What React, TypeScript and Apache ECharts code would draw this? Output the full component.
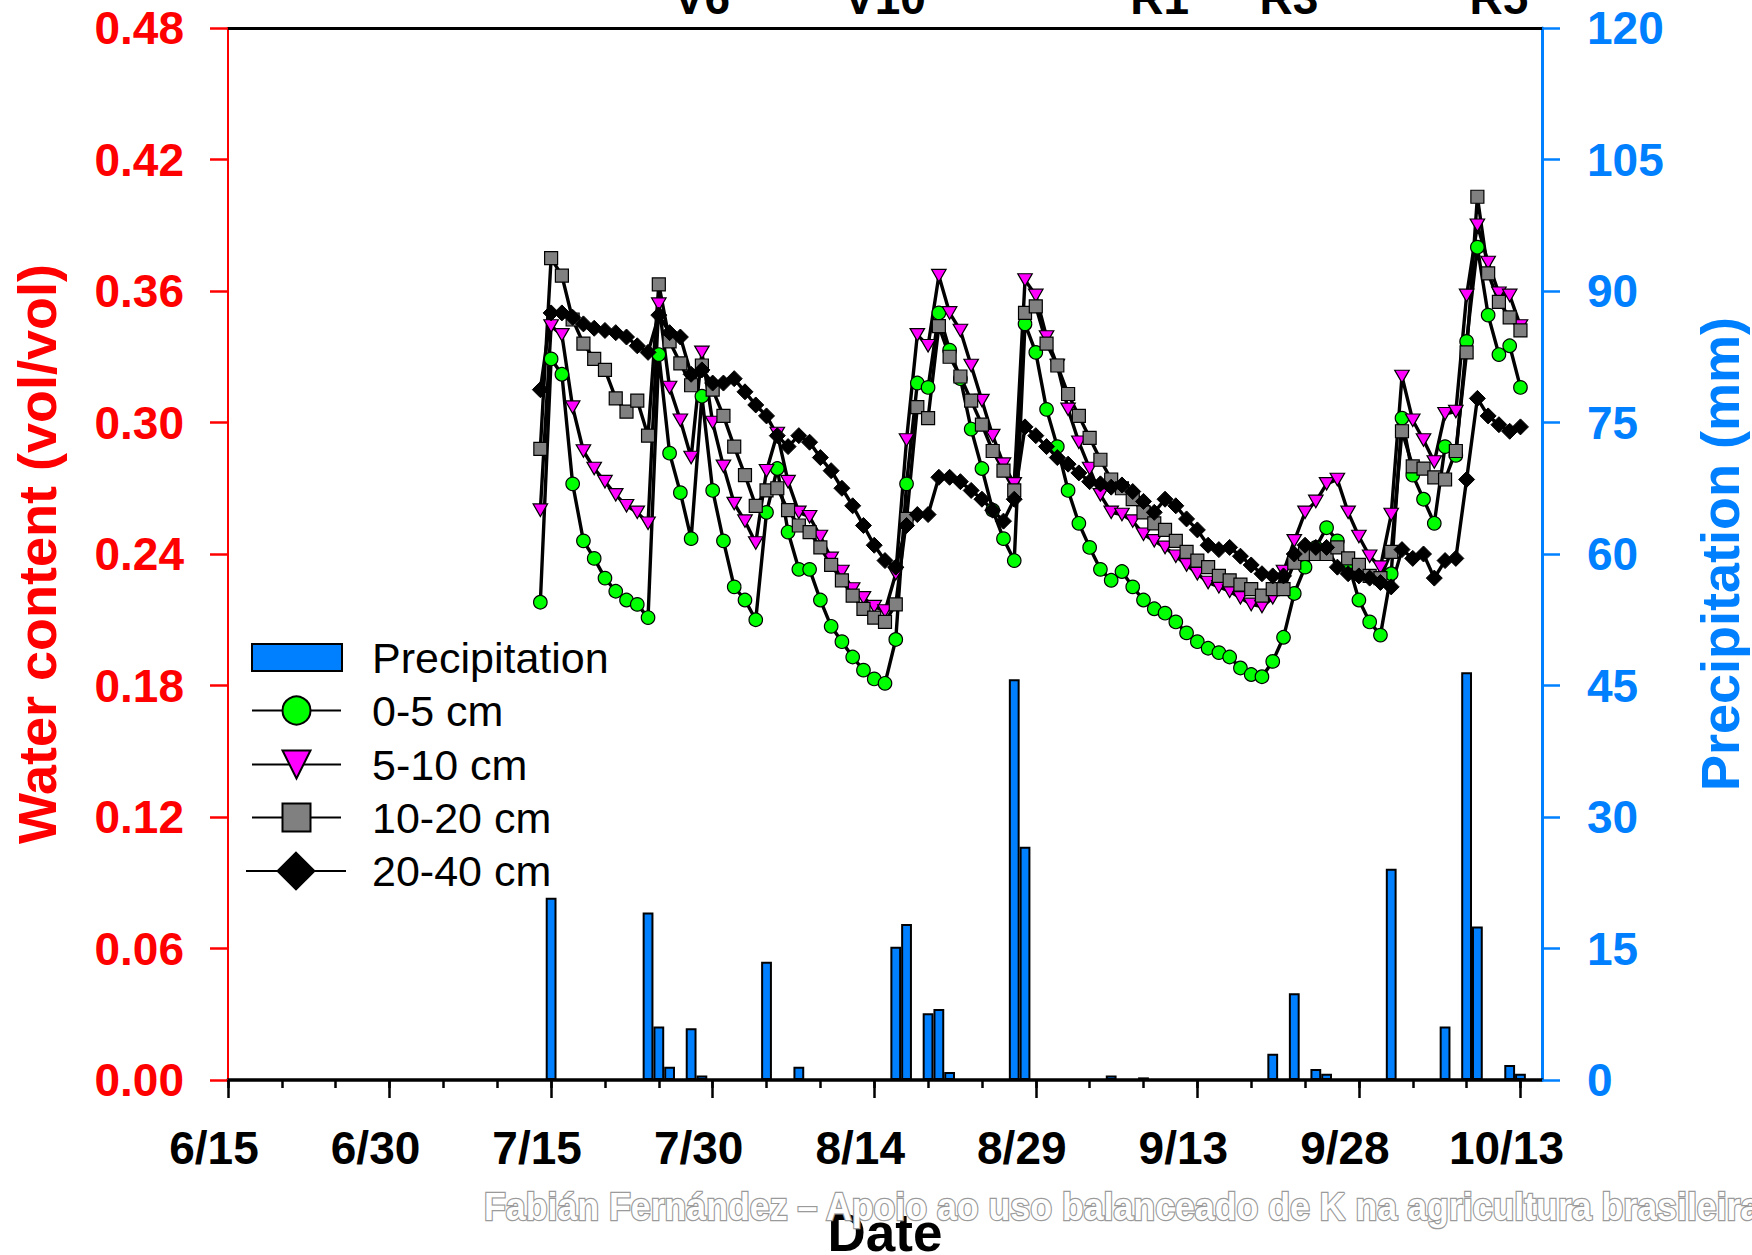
import { useEffect, useRef } from 'react';
import * as echarts from 'echarts';

// Day numbers are counted from 6/15 (day 0). Soil series start on 7/14 (day 29), one value per day.
const START_DAY = 29;

const soil0to5 = [
  0.218, 0.329, 0.322, 0.272, 0.246, 0.238, 0.229, 0.223, 0.219, 0.217, 0.211,
  0.331, 0.286, 0.268, 0.247, 0.312, 0.269, 0.246, 0.225, 0.219, 0.210,
  0.259, 0.279, 0.250, 0.233, 0.233, 0.219, 0.207, 0.200, 0.193, 0.187, 0.183, 0.181,
  0.201, 0.272, 0.318, 0.316, 0.350, 0.333, 0.320, 0.297, 0.279, 0.260, 0.247, 0.237,
  0.345, 0.332, 0.306, 0.289, 0.269, 0.254, 0.243, 0.233, 0.228, 0.232, 0.225, 0.219,
  0.215, 0.213, 0.209, 0.204, 0.200, 0.197, 0.195, 0.193, 0.188, 0.185, 0.184,
  0.191, 0.202, 0.222, 0.234, 0.243, 0.252, 0.246, 0.236, 0.219, 0.209, 0.203,
  0.231, 0.302, 0.276, 0.265, 0.254, 0.289, 0.285, 0.337, 0.380, 0.349, 0.331, 0.335, 0.316,
];

const soil5to10 = [
  0.260, 0.344, 0.340, 0.307, 0.287, 0.279, 0.273, 0.267, 0.262, 0.259, 0.254,
  0.354, 0.316, 0.301, 0.284, 0.332, 0.300, 0.280, 0.263, 0.255, 0.245,
  0.278, 0.295, 0.273, 0.259, 0.257, 0.248, 0.238, 0.232, 0.224, 0.220, 0.216, 0.214,
  0.231, 0.292, 0.340, 0.335, 0.367, 0.350, 0.342, 0.326, 0.310, 0.294, 0.281, 0.272,
  0.365, 0.358, 0.339, 0.326, 0.306, 0.291, 0.279, 0.267, 0.259, 0.258, 0.255, 0.249,
  0.246, 0.243, 0.239, 0.235, 0.231, 0.227, 0.225, 0.223, 0.220, 0.217, 0.216,
  0.220, 0.232, 0.246, 0.259, 0.264, 0.272, 0.274, 0.259, 0.248, 0.239, 0.234,
  0.258, 0.321, 0.301, 0.292, 0.282, 0.304, 0.305, 0.358, 0.390, 0.373, 0.359, 0.358, 0.344,
];

const soil10to20 = [
  0.288, 0.375, 0.367, 0.347, 0.336, 0.329, 0.324, 0.311, 0.305, 0.310, 0.294,
  0.363, 0.337, 0.327, 0.317, 0.326, 0.315, 0.303, 0.289, 0.276, 0.262,
  0.269, 0.270, 0.260, 0.253, 0.250, 0.243, 0.235, 0.228, 0.221, 0.215, 0.211, 0.209,
  0.217, 0.256, 0.307, 0.302, 0.344, 0.330, 0.321, 0.310, 0.299, 0.287, 0.278, 0.269,
  0.350, 0.353, 0.336, 0.326, 0.313, 0.303, 0.293, 0.283, 0.274, 0.270, 0.265, 0.259,
  0.254, 0.251, 0.246, 0.241, 0.237, 0.234, 0.230, 0.228, 0.226, 0.224, 0.221,
  0.224, 0.224, 0.236, 0.240, 0.240, 0.240, 0.243, 0.238, 0.235, 0.230, 0.229,
  0.241, 0.296, 0.280, 0.279, 0.275, 0.274, 0.287, 0.332, 0.403, 0.368, 0.355, 0.348, 0.342,
];

const soil20to40 = [
  0.315, 0.350, 0.350, 0.348, 0.345, 0.343, 0.342, 0.341, 0.339, 0.335, 0.332,
  0.349, 0.341, 0.339, 0.322, 0.324, 0.318, 0.318, 0.320, 0.314, 0.308,
  0.303, 0.294, 0.289, 0.294, 0.291, 0.284, 0.278, 0.270, 0.262, 0.253, 0.244, 0.237,
  0.234, 0.253, 0.258, 0.258, 0.275, 0.275, 0.273, 0.269, 0.265, 0.260, 0.255, 0.265,
  0.298, 0.294, 0.289, 0.284, 0.281, 0.277, 0.273, 0.272, 0.2705, 0.2715, 0.2685, 0.264,
  0.259, 0.265, 0.262, 0.256, 0.251, 0.244, 0.242, 0.243, 0.239, 0.235, 0.231,
  0.230, 0.230, 0.240, 0.244, 0.243, 0.243, 0.234, 0.231, 0.230, 0.229, 0.227,
  0.225, 0.242, 0.238, 0.240, 0.229, 0.237, 0.238, 0.274, 0.311, 0.303, 0.299, 0.296, 0.298,
];

const precipDays = [30, 39, 40, 41, 43, 44, 50, 53, 62, 63, 65, 66, 67, 73, 74, 82, 85, 97, 99, 101, 102, 108, 113, 115, 116, 119, 120];
const precipMm = [20.8, 19.1, 6.1, 1.5, 5.9, 0.5, 13.5, 1.5, 15.2, 17.8, 7.6, 8.1, 0.9, 45.7, 26.6, 0.5, 0.3, 3.0, 9.9, 1.25, 0.7, 24.1, 6.1, 46.5, 17.5, 1.7, 0.7];

const majorTickDays = [0, 15, 30, 45, 60, 75, 90, 105, 120];
const majorTickLabels = ['6/15', '6/30', '7/15', '7/30', '8/14', '8/29', '9/13', '9/28', '10/13'];
const minorTickDays = [0, 5, 10, 15, 20, 25, 30, 35, 40, 45, 50, 55, 60, 65, 70, 75, 80, 85, 90, 95, 100, 105, 110, 115, 120];
const stageDays = [44, 61, 86.5, 98.5, 118];
const stageLabels = ['V6', 'V10', 'R1', 'R3', 'R5'];

const WATERMARK = 'Fabián Fernández – Apoio ao uso balanceado de K na agricultura brasileira';

const FONT = '"Liberation Sans", Arial, Helvetica, sans-serif';
const RED = '#ff0000';
const BLUE = '#0080ff';

const toPairs = (arr: number[]) => arr.map((v, i) => [START_DAY + i, v]);

export default function App() {
  const ref = useRef<HTMLDivElement>(null);

  useEffect(() => {
    if (!ref.current) return;
    const chart = echarts.init(ref.current, undefined, { renderer: 'svg' });

    const lineBase = {
      type: 'line' as const,
      xAxisIndex: 0,
      yAxisIndex: 0,
      lineStyle: { color: '#000', width: 3.4 },
      emphasis: { disabled: true },
    };

    const legendText = (lineHeight: number, pad: number) => ({
      fontFamily: FONT,
      fontSize: 43,
      color: '#000',
      lineHeight,
      padding: [0, 0, 0, pad],
    });

    const option: any = {
      animation: false,
      grid: { left: 228, right: 210, top: 28, bottom: 175, containLabel: false, outerBoundsMode: 'none' },
      legend: [
        {
          left: 251, top: 636, padding: 0, itemGap: 0, selectedMode: false,
          itemWidth: 90, itemHeight: 27,
          data: [{ name: 'Precipitation', icon: 'rect' }],
          textStyle: legendText(27, 25),
        },
        {
          left: 251, top: 689, padding: 0, itemGap: 0, selectedMode: false,
          itemWidth: 89, itemHeight: 35,
          data: ['0-5 cm'],
          textStyle: legendText(35, 26),
        },
        {
          left: 251, top: 743, padding: 0, itemGap: 0, selectedMode: false,
          itemWidth: 89, itemHeight: 35,
          data: ['5-10 cm'],
          textStyle: legendText(35, 26),
        },
        {
          left: 251, top: 796, padding: 0, itemGap: 0, selectedMode: false,
          itemWidth: 89, itemHeight: 35,
          data: ['10-20 cm'],
          textStyle: legendText(35, 26),
        },
        {
          left: 245, top: 848, padding: 0, itemGap: 0, selectedMode: false,
          itemWidth: 100, itemHeight: 46,
          data: ['20-40 cm'],
          textStyle: legendText(46, 21),
        },
      ],
      xAxis: [
        {
          type: 'value', position: 'bottom', min: 0, max: 122,
          name: 'Date', nameLocation: 'middle', nameGap: 126,
          nameTextStyle: { fontFamily: FONT, fontSize: 53, fontWeight: 'bold', color: '#000' },
          axisLine: { show: true, onZero: false, lineStyle: { color: '#000', width: 3.5 } },
          axisTick: { show: true, customValues: majorTickDays, length: 18, lineStyle: { color: '#000', width: 2.5 } },
          axisLabel: {
            customValues: majorTickDays,
            formatter: (v: number) => majorTickLabels[majorTickDays.indexOf(Math.round(v))] ?? '',
            fontFamily: FONT, fontSize: 46, fontWeight: 'bold', color: '#000',
            margin: 45, padding: [0, 28, 0, 0],
          },
          splitLine: { show: false },
        },
        {
          type: 'value', position: 'bottom', min: 0, max: 122,
          axisLine: { show: false, onZero: false },
          axisTick: { show: true, customValues: minorTickDays, length: 8, lineStyle: { color: '#000', width: 2.5 } },
          axisLabel: { show: false },
          splitLine: { show: false },
        },
        {
          type: 'value', position: 'top', min: 0, max: 122,
          axisLine: { show: true, onZero: false, lineStyle: { color: '#000', width: 3 } },
          axisTick: { show: false },
          axisLabel: {
            customValues: stageDays,
            formatter: (v: number) => {
              const i = stageDays.findIndex((d) => Math.abs(d - v) < 0.01);
              return i >= 0 ? stageLabels[i] : '';
            },
            fontFamily: FONT, fontSize: 46, fontWeight: 'bold', color: '#000', margin: 7,
          },
          splitLine: { show: false },
        },
      ],
      yAxis: [
        {
          type: 'value', position: 'left', min: 0, max: 0.48, interval: 0.06,
          name: 'Water content (vol/vol)', nameLocation: 'middle', nameGap: 164,
          nameTextStyle: { fontFamily: FONT, fontSize: 54, fontWeight: 'bold', color: RED },
          axisLine: { show: true, onZero: false, lineStyle: { color: RED, width: 2 } },
          axisTick: { show: true, length: 18, lineStyle: { color: RED, width: 2.5 } },
          axisLabel: {
            formatter: (v: number) => v.toFixed(2),
            fontFamily: FONT, fontSize: 46, fontWeight: 'bold', color: RED, margin: 44,
          },
          splitLine: { show: false },
        },
        {
          type: 'value', position: 'right', min: 0, max: 120, interval: 15,
          name: 'Precipitation (mm)', nameLocation: 'middle', nameGap: 151,
          nameTextStyle: { fontFamily: FONT, fontSize: 54, fontWeight: 'bold', color: BLUE },
          axisLine: { show: true, onZero: false, lineStyle: { color: BLUE, width: 3 } },
          axisTick: { show: true, length: 18, lineStyle: { color: BLUE, width: 2.5 } },
          axisLabel: {
            fontFamily: FONT, fontSize: 46, fontWeight: 'bold', color: BLUE, margin: 45,
          },
          splitLine: { show: false },
        },
      ],
      series: [
        {
          name: 'Precipitation',
          type: 'bar',
          xAxisIndex: 0,
          yAxisIndex: 1,
          barWidth: 10.8,
          data: precipDays.map((d, i) => [d, precipMm[i]]),
          itemStyle: { color: BLUE, borderColor: '#000', borderWidth: 2 },
          emphasis: { disabled: true },
        },
        {
          ...lineBase,
          name: '0-5 cm',
          data: toPairs(soil0to5),
          symbol: 'circle',
          symbolSize: 13.5,
          itemStyle: { color: '#00ff00', borderColor: '#000', borderWidth: 1.2 },
        },
        {
          ...lineBase,
          name: '5-10 cm',
          data: toPairs(soil5to10),
          symbol: 'triangle',
          symbolRotate: 180,
          symbolSize: [14.5, 12.5],
          itemStyle: { color: '#ff00ff', borderColor: '#000', borderWidth: 1.2 },
        },
        {
          ...lineBase,
          name: '10-20 cm',
          data: toPairs(soil10to20),
          symbol: 'rect',
          symbolSize: 13,
          itemStyle: { color: '#808080', borderColor: '#000', borderWidth: 1.2 },
        },
        {
          ...lineBase,
          name: '20-40 cm',
          data: toPairs(soil20to40),
          symbol: 'diamond',
          symbolSize: 16,
          itemStyle: { color: '#000', borderColor: '#000', borderWidth: 1 },
        },
      ],
      graphic: [
        {
          type: 'text',
          x: 484,
          y: 1188,
          scaleX: 0.94,
          z: 100,
          silent: true,
          style: {
            text: WATERMARK,
            font: `bold 38px ${FONT}`,
            fill: '#ffffff',
            stroke: '#9a9a9a',
            lineWidth: 2.5,
            strokeFirst: true,
            shadowColor: 'rgba(0,0,0,0.35)',
            shadowBlur: 3,
            shadowOffsetX: 1,
            shadowOffsetY: 2,
          },
        },
      ],
    };

    chart.setOption(option);
    return () => chart.dispose();
  }, []);

  return (
    <div
      ref={ref}
      style={{ position: 'absolute', left: 0, top: 0, width: 1752, height: 1255, background: '#fff' }}
    />
  );
}
